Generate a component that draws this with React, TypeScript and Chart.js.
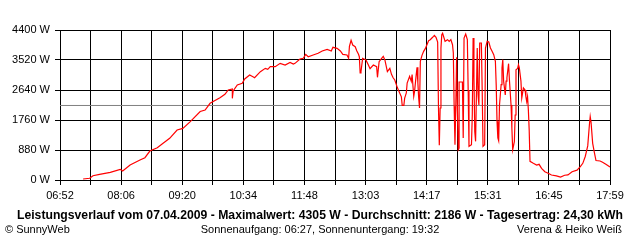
import React, { useEffect, useRef } from 'react';
import { Chart, registerables } from 'chart.js';

Chart.register(...registerables);

// ---- data ----
const times: string[] = [
  '07:20','07:28','07:32','07:40','07:53','08:05','08:08','08:17','08:29','08:35',
  '08:41','08:50','08:57','09:05','09:14','09:21','09:30','09:42','09:48','09:54',
  '10:06','10:12','10:16','10:21','10:21','10:22','10:27','10:33','10:36','10:42',
  '10:46','10:48','10:55','11:01','11:04','11:07','11:13','11:19','11:25','11:31',
  '11:35','11:37','11:43','11:47','11:50','11:53','11:59','12:05','12:10','12:16',
  '12:21','12:23','12:28','12:32','12:35','12:40','12:42','12:43','12:45','12:47',
  '12:50','12:52','12:54','12:55','12:56','12:57','12:59','13:03','13:06','13:08',
  '13:12','13:16','13:17','13:19','13:23','13:24','13:26','13:29','13:32','13:34',
  '13:36','13:38','13:41','13:43','13:46','13:47','13:49','13:50','13:52','13:53',
  '13:56','13:58','13:59','14:01','14:02','14:04','14:05','14:06','14:07','14:08',
  '14:09','14:11','14:13','14:15','14:17','14:19','14:21','14:23','14:25','14:26',
  '14:28','14:30','14:31','14:32','14:33','14:34','14:35','14:36','14:39','14:42',
  '14:44','14:46','14:48','14:49','14:50','14:51','14:52','14:53','14:54','14:55',
  '14:56','14:56','15:00','15:01','15:02','15:04','15:06','15:07','15:08','15:11',
  '15:12','15:13','15:14','15:15','15:16','15:18','15:19','15:20','15:21','15:23',
  '15:24','15:25','15:27','15:28','15:30','15:32','15:34','15:36','15:38','15:40',
  '15:41','15:42','15:43','15:44','15:45','15:47','15:48','15:49','15:50','15:52',
  '15:53','15:54','15:56','15:57','15:59','16:00','16:01','16:03','16:04','16:05',
  '16:07','16:08','16:09','16:11','16:12','16:14','16:16','16:17','16:18','16:19',
  '16:20','16:21','16:22','16:26','16:30','16:33','16:36','16:40','16:44','16:48',
  '16:54','16:59','17:04','17:08','17:13','17:19','17:23','17:26','17:29','17:32',
  '17:34','17:35','17:36','17:38','17:40','17:42','17:47','17:50','17:54','17:59',
];

const power: number[] = [
  30, 50, 126, 167, 225, 313, 264, 440, 587, 655,
  850, 948, 1075, 1222, 1467, 1515, 1711, 2010, 2053, 2249,
  2415, 2513, 2640, 2669, 2396, 2611, 2787, 2836, 2963, 3080,
  3030, 3000, 3177, 3275, 3246, 3324, 3324, 3422, 3373, 3451,
  3400, 3422, 3549, 3569, 3686, 3617, 3667, 3716, 3784, 3833,
  3784, 3892, 3862, 3784, 3686, 3667, 3569, 3921, 4100, 3960,
  3911, 3784, 3686, 3617, 3138, 3177, 3569, 3520, 3373, 3266,
  3373, 3324, 3012, 3471, 3600, 3627, 3520, 3177, 3275, 3100,
  3000, 2933, 2718, 2600, 2440, 2190, 2190, 2405, 2552, 2845,
  3041, 2894, 3090, 2454, 2601, 3090, 3305, 2845, 2405, 2112,
  3481, 3657, 3774, 3852, 3969, 4087, 4116, 4165, 4214, 4243,
  4184, 4047, 2112, 1017, 2112, 3872, 4263, 4305, 4067, 4116,
  4067, 4116, 3969, 3725, 2161, 1036, 2161, 3600, 2014, 889,
  939, 2874, 2874, 1232, 4165, 4282, 4116, 2640, 987, 1036,
  1916, 4165, 2991, 1427, 1134, 3872, 2503, 2200, 4018, 4018,
  2640, 987, 1036, 3872, 4067, 4047, 3872, 3774, 3676, 3481,
  2787, 1720, 1232, 1150, 2200, 2800, 3285, 3530, 2900, 2493,
  2900, 3000, 3412, 2950, 2200, 1525, 889, 1124, 1907, 3236,
  3275, 3383, 3300, 2900, 2405, 2700, 2640, 2444, 2300, 2444,
  2053, 1467, 547, 489, 440, 460, 342, 244, 196, 147,
  120, 85, 140, 150, 244, 290, 391, 489, 690, 1000,
  1613, 1860, 1700, 1075, 812, 570, 557, 520, 460, 380,
];

const xTickLabels: string[] = ['06:52', '08:06', '09:20', '10:34', '11:48', '13:03', '14:17', '15:31', '16:45', '17:59'];
const yMax = 4400;
const yStep = 880;
const average = 2186;

const titleText = 'Leistungsverlauf vom 07.04.2009 - Maximalwert: 4305 W - Durchschnitt: 2186 W - Tagesertrag: 24,30 kWh';
const footerLeft = '\u00A9 SunnyWeb';
const footerCenter = 'Sonnenaufgang: 06:27, Sonnenuntergang: 19:32';
const footerRight = 'Verena & Heiko Wei\u00DF';

const FONT = '"Liberation Sans", Arial, sans-serif';

function toMin(s: string): number {
  const [h, m] = s.split(':').map(Number);
  return h * 60 + m;
}

const bottomText = {
  id: 'bottomText',
  afterDraw(chart: any) {
    const ctx = chart.ctx as CanvasRenderingContext2D;
    ctx.save();
    ctx.fillStyle = '#000';
    ctx.textBaseline = 'middle';
    ctx.font = `bold 12.2px ${FONT}`;
    ctx.textAlign = 'center';
    ctx.fillText(titleText, 320, 216);
    ctx.font = `11px ${FONT}`;
    ctx.textAlign = 'left';
    ctx.fillText(footerLeft, 5, 230);
    ctx.textAlign = 'center';
    ctx.fillText(footerCenter, 320, 230);
    ctx.textAlign = 'right';
    ctx.fillText(footerRight, 622, 230);
    ctx.restore();
  },
};

export default function App() {
  const ref = useRef<HTMLCanvasElement | null>(null);

  useEffect(() => {
    if (!ref.current) return;
    const xMin = toMin(xTickLabels[0]);
    const xMax = toMin(xTickLabels[xTickLabels.length - 1]);
    const nGrid = (xTickLabels.length - 1) * 2;

    const chart = new Chart(ref.current, {
      type: 'line',
      data: {
        datasets: [
          {
            data: times.map((t, i) => ({ x: toMin(t), y: power[i] })),
            borderColor: '#ff0000',
            borderWidth: 1.2,
            pointRadius: 0,
            tension: 0,
            fill: false,
            order: 1,
          },
          {
            data: [
              { x: xMin, y: average },
              { x: xMax, y: average },
            ],
            borderColor: '#808080',
            borderWidth: 1,
            pointRadius: 0,
            fill: false,
            order: 2,
          },
        ],
      },
      options: {
        animation: false,
        responsive: false,
        devicePixelRatio: 1,
        events: [],
        layout: { padding: { left: 0, right: 30, top: 30, bottom: 40 } },
        plugins: {
          legend: { display: false },
          tooltip: { enabled: false },
          title: { display: false },
        },
        scales: {
          x: {
            type: 'linear',
            min: xMin,
            max: xMax,
            afterBuildTicks: (scale: any) => {
              scale.ticks = Array.from({ length: nGrid + 1 }, (_, i) => ({
                value: xMin + (i * (xMax - xMin)) / nGrid,
              }));
            },
            afterFit: (scale: any) => {
              scale.height = 20;
            },
            ticks: {
              autoSkip: false,
              maxRotation: 0,
              minRotation: 0,
              padding: 4,
              color: '#000',
              font: { family: FONT, size: 11 },
              callback: (_v: any, index: number) => (index % 2 === 0 ? xTickLabels[index / 2] : ''),
            },
            grid: { color: '#000', lineWidth: 1, tickLength: 5, drawTicks: true },
            border: { color: '#000', width: 1 },
          },
          y: {
            type: 'linear',
            min: 0,
            max: yMax,
            afterFit: (scale: any) => {
              scale.width = 60;
            },
            ticks: {
              stepSize: yStep,
              padding: 5,
              color: '#000',
              font: { family: FONT, size: 11 },
              callback: (v: any) => `${v} W`,
            },
            grid: { color: '#000', lineWidth: 1, tickLength: 5, drawTicks: true },
            border: { color: '#000', width: 1 },
          },
        },
      },
      plugins: [bottomText],
    });

    return () => chart.destroy();
  }, []);

  return (
    <div style={{ position: 'absolute', left: 0, top: 0, width: 640, height: 240, background: '#fff' }}>
      <canvas ref={ref} width={640} height={240} style={{ width: 640, height: 240, display: 'block' }} />
    </div>
  );
}
